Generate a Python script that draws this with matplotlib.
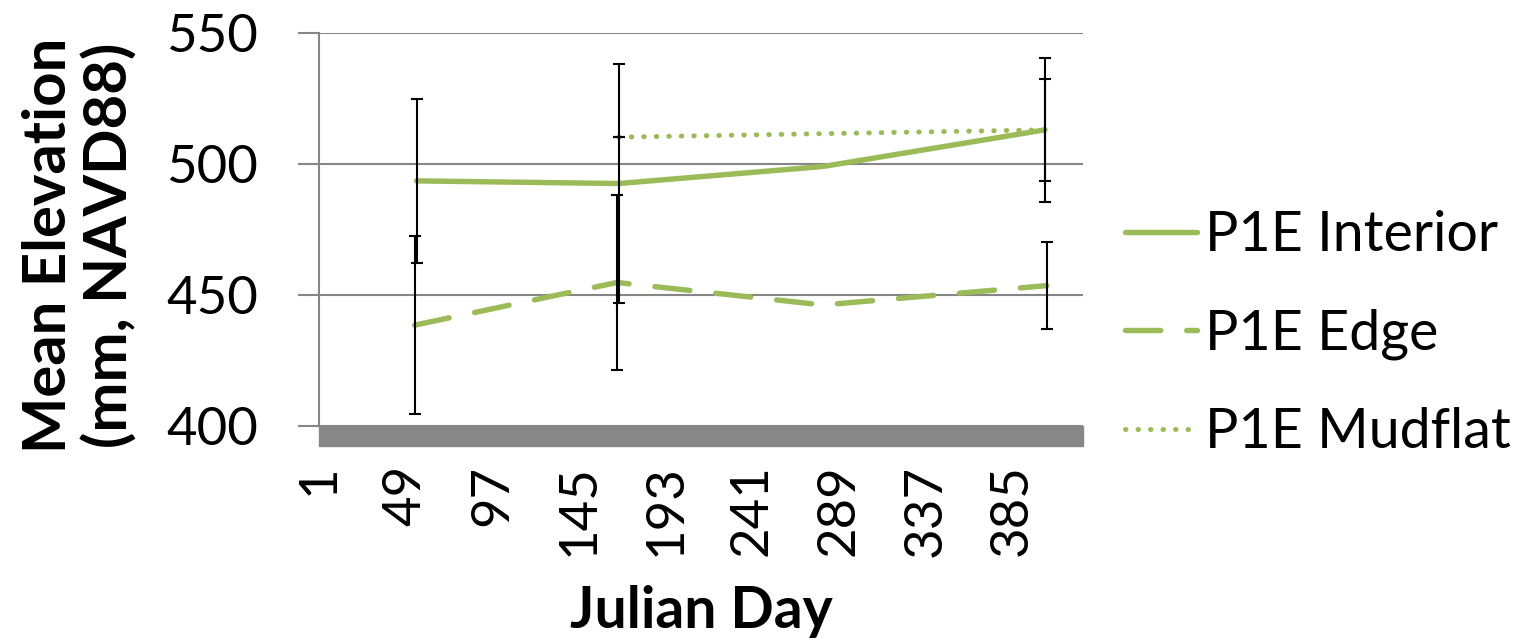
import numpy as np
import matplotlib
matplotlib.use("Agg")
import matplotlib.pyplot as plt
from matplotlib.patches import Rectangle

plt.rcParams['font.family'] = ['Lato', 'DejaVu Sans']

# data
interior_day = [55, 167, 280, 403]
interior_elev = [493.5, 492.5, 499.0, 513.0]
interior_err = [31.4, 45.5, np.nan, 27.5]

edge_day = [54, 166, 280, 404]
edge_elev = [438.4, 454.7, 446.1, 453.5]
edge_err = [33.9, 33.5, np.nan, 16.6]

mudflat_day = [167, 403]
mudflat_elev = [510.2, 513.0]
mudflat_err = [0.0, 19.5]

x_ticks = [1, 49, 97, 145, 193, 241, 289, 337, 385]
y_ticks = [400, 450, 500, 550]

green = '#9BBB59'
grid_gray = '#868686'

fig = plt.figure(figsize=(15.3, 6.43), dpi=100)
ax = fig.add_axes([0.2085, 0.338, 0.4993, 0.6107])

ax.plot(interior_day, interior_elev, color=green, lw=3.9,
        solid_capstyle='round', label='P1E Interior', zorder=2)
ax.plot(edge_day, edge_elev, color=green, lw=3.9, linestyle=(0, (6.5, 4.8)),
        dash_capstyle='round', label='P1E Edge', zorder=2)
ax.plot(mudflat_day, mudflat_elev, color=green, lw=3.6, linestyle=(0, (0.1, 2.4)),
        dash_capstyle='round', label='P1E Mudflat', zorder=2)

# error bars (skip points without a bar)
for d, v, e in [(interior_day, interior_elev, interior_err),
                (edge_day, edge_elev, edge_err),
                (mudflat_day, mudflat_elev, mudflat_err)]:
    d, v, e = np.array(d, float), np.array(v), np.array(e)
    m = ~np.isnan(e)
    ax.errorbar(d[m], v[m], yerr=e[m], fmt='none', ecolor='black',
                elinewidth=1.5, capsize=4, capthick=1.5, zorder=3)

ax.set_xlim(1, 424)
ax.set_ylim(400, 550)
ax.set_xticks(x_ticks)
ax.set_xticklabels([str(t) for t in x_ticks], rotation=90)
ax.set_yticks(y_ticks)

for s in ['top', 'right', 'bottom']:
    ax.spines[s].set_visible(False)
ax.spines['left'].set_color(grid_gray)
ax.spines['left'].set_linewidth(1.5)
ax.yaxis.grid(True, color=grid_gray, lw=1.5)
ax.set_axisbelow(True)

ax.tick_params(axis='y', length=15, width=1.5, color=grid_gray, pad=29,
               labelsize=38)
ax.tick_params(axis='x', length=0, pad=28, labelsize=38)

# thick grey axis band along the bottom
ax.add_patch(Rectangle((0, -20 / 392.7), 1, 20 / 392.7, transform=ax.transAxes,
                       color='#878787', clip_on=False, zorder=1))

ax.set_ylabel('Mean Elevation\n(mm, NAVD88)', fontsize=43, fontweight='bold',
              linespacing=1.12, va='center', ha='center')
ax.yaxis.set_label_coords(-0.313, 0.46)
ax.set_xlabel('Julian Day', fontsize=41, fontweight='bold')
ax.xaxis.label.set_va('center')
ax.xaxis.set_label_coords(0.5, -0.474)

leg = ax.legend(loc='center left', bbox_to_anchor=(0.735, 0.480),
                bbox_transform=fig.transFigure, frameon=False, fontsize=40,
                handlelength=1.3, handletextpad=0.15, labelspacing=0.85,
                borderpad=0, borderaxespad=0)

plt.savefig('out.png', dpi=100)
